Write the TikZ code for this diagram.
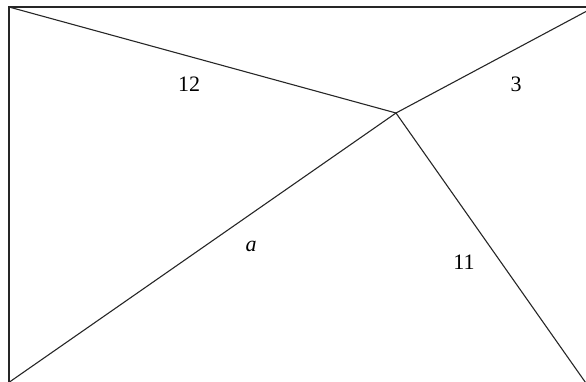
\documentclass[tikz,border=0pt]{standalone}
\usepackage{fontspec}
\setmainfont{Liberation Serif}
\begin{document}
\begin{tikzpicture}[x=1pt,y=-1pt,
  edge/.style={draw=black!85,line width=1.1pt},
  lbl/.style={font=\fontsize{22}{24}\selectfont,inner sep=0pt}]
\useasboundingbox (0,0) rectangle (586,382);
\begin{scope}
\clip (0,0) rectangle (586,382);
\coordinate (tl) at (9,7);
\coordinate (tr) at (600,7);
\coordinate (bl) at (9,400);
\coordinate (c) at (396,113);
\coordinate (e1) at (600,4);
\coordinate (e2) at (-2,390);
\coordinate (e3) at (595,396);
\draw[edge] (tr) -- (tl) -- (bl);
\draw[edge] (tl) -- (c);
\draw[edge] (c) -- (e1);
\draw[edge] (c) -- (e2);
\draw[edge] (c) -- (e3);
\end{scope}
\node[lbl] (n12) at (189,84) {12};
\node[lbl] (n3) at (516,84) {3};
\node[lbl] (na) at (251,246) {\itshape a};
\node[lbl] (n11) at (464,262) {11};
\end{tikzpicture}
\end{document}
